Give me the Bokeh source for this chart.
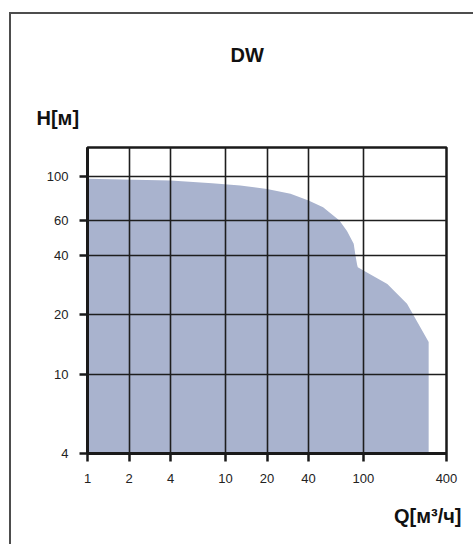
from bokeh.plotting import figure
from bokeh.models import Range1d, FixedTicker, NumeralTickFormatter, Title, ColumnDataSource
from bokeh.embed import file_html
from bokeh.resources import INLINE

# Data (pump curve DW, log-log)
flow_q = [1, 4, 8, 12.8, 20, 29.6, 40, 51, 67, 76, 85, 87.5, 90, 91, 100, 149, 207, 259, 297]
head_h = [97.4, 95.4, 92.5, 90, 86.5, 81.8, 75.7, 70, 60, 53, 45.7, 40, 35.8, 34.8, 33.5, 28.7, 22.8, 17.3, 14.6]
x_ticks = [1, 2, 4, 10, 20, 40, 100, 400]
y_ticks = [4, 10, 20, 40, 60, 100]
x_min, x_max = 1, 400
y_min, y_max = 4, 140

src = ColumnDataSource(dict(q=flow_q, h=head_h, base=[y_min] * len(flow_q)))

p = figure(width=464, height=532, x_axis_type="log", y_axis_type="log",
           x_range=Range1d(x_min, x_max), y_range=Range1d(y_min, y_max),
           output_backend="svg", toolbar_location=None,
           min_border_left=76, min_border_top=133, min_border_right=29, min_border_bottom=93,
           background_fill_color="white", border_fill_color="white")
p.styles = {"border-left": "2px solid #4d4d4d", "border-top": "2px solid #4d4d4d",
            "margin-left": "9px", "margin-top": "12px"}

p.varea(x="q", y1="base", y2="h", source=src, fill_color="#a9b3ce", fill_alpha=1)

p.outline_line_color = "#1a1a1a"
p.outline_line_width = 2.5

for ax, ticks in ((p.xaxis, x_ticks), (p.yaxis, y_ticks)):
    ax.ticker = FixedTicker(ticks=ticks)
    ax.formatter = NumeralTickFormatter(format="0")
    ax.axis_line_color = "#1a1a1a"
    ax.axis_line_width = 3
    ax.major_tick_line_color = "#1a1a1a"
    ax.major_tick_line_width = 2.5
    ax.major_tick_out = 8
    ax.major_tick_in = 0
    ax.minor_tick_line_color = None
    ax.major_label_text_font = "Liberation Sans"
    ax.major_label_text_font_size = "13px"
    ax.major_label_text_color = "#222222"
p.xaxis.major_label_standoff = 12
p.yaxis.major_label_standoff = 11

for g, ticks in ((p.xgrid, x_ticks), (p.ygrid, y_ticks)):
    g.ticker = FixedTicker(ticks=ticks)
    g.grid_line_color = "#1e1e1e"
    g.grid_line_width = 1.6
    g.grid_line_alpha = 1
    g.level = "overlay"

lab_font = "Liberation Sans"
p.add_layout(Title(text="H[м]", align="left", offset=-51, standoff=37,
                   text_font=lab_font, text_font_size="20px", text_font_style="bold",
                   text_color="#111111"), "above")
p.add_layout(Title(text="DW", align="left", offset=143, standoff=42,
                   text_font=lab_font, text_font_size="20px", text_font_style="bold",
                   text_color="#111111"), "above")
p.add_layout(Title(text="Q[м³/ч]", align="right", offset=-15, standoff=34,
                   text_font=lab_font, text_font_size="20px", text_font_style="bold",
                   text_color="#111111"), "below")

open("out.html", "w").write(file_html(p, INLINE))
